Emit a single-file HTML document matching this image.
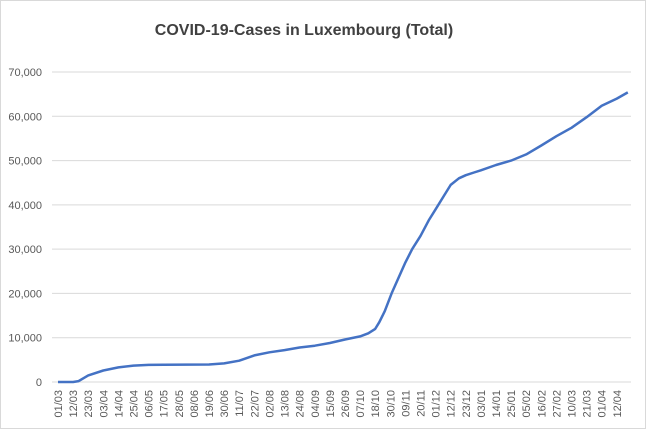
<!DOCTYPE html>
<html><head><meta charset="utf-8"><style>
body{margin:0;background:#fff}
svg{display:block;font-family:"Liberation Sans",sans-serif}
</style></head><body>
<svg id="s" width="646" height="429" xmlns="http://www.w3.org/2000/svg">
<rect x="0.5" y="0.5" width="645" height="428" fill="#fff" stroke="#d9d9d9"/>
<text x="304" y="35" text-anchor="middle" font-size="16" font-weight="bold" fill="#404040">COVID-19-Cases in Luxembourg (Total)</text>
<g id="g"></g>
</svg>
<script>
var g=document.getElementById('g'),h='';
function Y(v){return 382-v*310/70000;}
for(var i=0;i<=7;i++){var y=Y(i*10000);
h+='<line x1="52" x2="631" y1="'+y+'" y2="'+y+'" stroke="#d9d9d9" stroke-width="1"/>';
h+='<text x="42" y="'+(y+4)+'" text-anchor="end" font-size="11" fill="#595959">'+(i==0?'0':(i*10)+',000')+'</text>';}
var labs="01/03 12/03 23/03 03/04 14/04 25/04 06/05 17/05 28/05 08/06 19/06 30/06 11/07 22/07 02/08 13/08 24/08 04/09 15/09 26/09 07/10 18/10 30/10 09/11 20/11 01/12 12/12 23/12 03/01 14/01 25/01 05/02 16/02 27/02 10/03 21/03 01/04 12/04".split(' ');
var d=1.373;
labs.forEach(function(l,k){var x=58+k*11*d;
h+='<text transform="translate('+(x+4)+',390) rotate(-90)" text-anchor="end" font-size="11" fill="#595959">'+l+'</text>';});
var pts=[[0,0],[11,0],[15,200],[22,1500],[33,2600],[44,3300],[55,3700],[66,3850],[77,3900],[110,3950],[121,4200],[132,4800],[143,6000],[154,6700],[165,7200],[176,7800],[187,8200],[198,8800],[209,9600],[220,10300],[226,11000],[231,12000],[234,13500],[238,16000],[243,20000],[248,23500],[253,27000],[258,30000],[264,33000],[270,36500],[275,39000],[281,42000],[286,44500],[292,46000],[297,46700],[303,47300],[308,47800],[319,49000],[330,50000],[341,51400],[352,53400],[363,55500],[374,57400],[385,59800],[396,62400],[407,64000],[415,65400]];
var p=pts.map(function(q){return (58+q[0]*d).toFixed(1)+','+Y(q[1]).toFixed(1)}).join(' ');
h+='<polyline points="'+p+'" fill="none" stroke="#4472c4" stroke-width="2.5" stroke-linejoin="round"/>';
g.innerHTML=h;
</script>
</body></html>
